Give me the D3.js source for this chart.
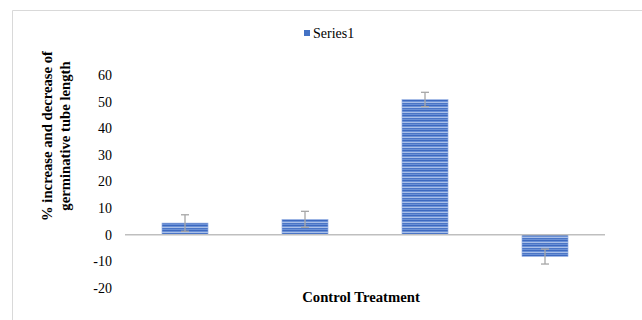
<!DOCTYPE html>
<html>
<head>
<meta charset="utf-8">
<script src="https://cdn.jsdelivr.net/npm/d3@7"></script>
<style>
  body { margin: 0; background: #fff; }
  text { font-family: "Liberation Serif", "Times New Roman", serif; }
</style>
</head>
<body>
<div id="chart"></div>
<script>
// Bar chart with error bars, striped fill

const categories = ["C1", "C2", "C3", "C4"];
const values = [4.4, 5.8, 50.8, -8.2];
const errors = [3.1, 3.0, 2.7, 2.8];
const yTicks = [-20, -10, 0, 10, 20, 30, 40, 50, 60];
const seriesName = "Series1";

const w = 642, h = 320;
const pL = 125, pR = 37, yTop = 75, yBottom = 288;

const svg = d3.select("#chart").
append("svg").
attr("width", w).
attr("height", h);

// striped fill
const defs = svg.append("defs");
const pat = defs.append("pattern").
attr("id", "stripes").
attr("patternUnits", "userSpaceOnUse").
attr("width", 8).
attr("height", 5);
pat.append("rect").attr("width", 8).attr("height", 5).attr("fill", "#6b91d6");
pat.append("rect").attr("y", 0).attr("width", 8).attr("height", 1).attr("fill", "#3d69c0");
pat.append("rect").attr("y", 2).attr("width", 8).attr("height", 1).attr("fill", "#a9bfe8");
pat.append("rect").attr("y", 3).attr("width", 8).attr("height", 1).attr("fill", "#4a75c6");

// outer frame lines
svg.append("line").
attr("x1", 12.5).attr("x2", 12.5).attr("y1", 10.5).attr("y2", h).
attr("stroke", "#d9d9d9");
svg.append("line").
attr("x1", 12.5).attr("x2", w).attr("y1", 10.5).attr("y2", 10.5).
attr("stroke", "#d9d9d9");

// scales
const xScale = d3.scaleBand().
domain(categories).
range([pL, w - pR]).
paddingInner(0.616).
paddingOuter(0.308);

const yScale = d3.scaleLinear().
domain([-20, 60]).
range([yBottom, yTop]);

// y axis labels only (plain hyphen for negatives)
const yAxis = d3.axisLeft(yScale).
tickValues(yTicks).
tickFormat(d => String(d)).
tickSize(0).
tickPadding(0);

const yG = svg.append("g").
attr("transform", `translate(112 0)`).
call(yAxis);
yG.select(".domain").remove();
yG.attr("font-family", null).attr("font-size", null);
yG.selectAll("text").
style("font-family", "'Liberation Serif', serif").
style("font-size", "14px").
attr("fill", "#000");

// bars
svg.selectAll("rect.bar").
data(values).
join("rect").
attr("class", "bar").
attr("x", (d, i) => xScale(categories[i])).
attr("width", xScale.bandwidth()).
attr("y", d => yScale(Math.max(0, d))).
attr("height", d => Math.abs(yScale(d) - yScale(0))).
attr("fill", "url(#stripes)").
attr("stroke", "#9db5e4").
attr("stroke-width", 0.6);

// zero line
svg.append("line").
attr("x1", pL).attr("x2", w - pR).
attr("y1", yScale(0)).attr("y2", yScale(0)).
attr("stroke", "#bfbfbf").
attr("stroke-width", 1.5);

// error bars
const eb = svg.selectAll("g.err").
data(values).
join("g").
attr("class", "err").
attr("stroke", "#a6a6a6").
attr("stroke-width", 1.3);

const cx = i => xScale(categories[i]) + xScale.bandwidth() / 2;

eb.append("line").
attr("x1", (d, i) => cx(i)).attr("x2", (d, i) => cx(i)).
attr("y1", (d, i) => yScale(d + errors[i])).
attr("y2", (d, i) => yScale(d - errors[i]));
eb.append("line").
attr("x1", (d, i) => cx(i) - 4).attr("x2", (d, i) => cx(i) + 4).
attr("y1", (d, i) => yScale(d + errors[i])).
attr("y2", (d, i) => yScale(d + errors[i]));
eb.append("line").
attr("x1", (d, i) => cx(i) - 4).attr("x2", (d, i) => cx(i) + 4).
attr("y1", (d, i) => yScale(d - errors[i])).
attr("y2", (d, i) => yScale(d - errors[i]));

// legend
svg.append("rect").
attr("x", 304).attr("y", 30).
attr("width", 6).attr("height", 6).
attr("fill", "#4472c4");
svg.append("text").
attr("x", 313).attr("y", 38).
style("font-size", "14px").
text(seriesName);

// y axis title
const yTitle = svg.append("text").
attr("transform", "translate(52 136) rotate(-90)").
attr("text-anchor", "middle").
style("font-size", "14.7px").
attr("font-weight", "bold");
yTitle.append("tspan").attr("x", 0).attr("dy", 0).text("% increase and decrease of");
yTitle.append("tspan").attr("x", 0).attr("dy", 18).text("germinative tube length");

// x axis title
svg.append("text").
attr("x", 361).attr("y", 302).
attr("text-anchor", "middle").
style("font-size", "14.7px").
attr("font-weight", "bold").
text("Control Treatment");
</script>
</body>
</html>
